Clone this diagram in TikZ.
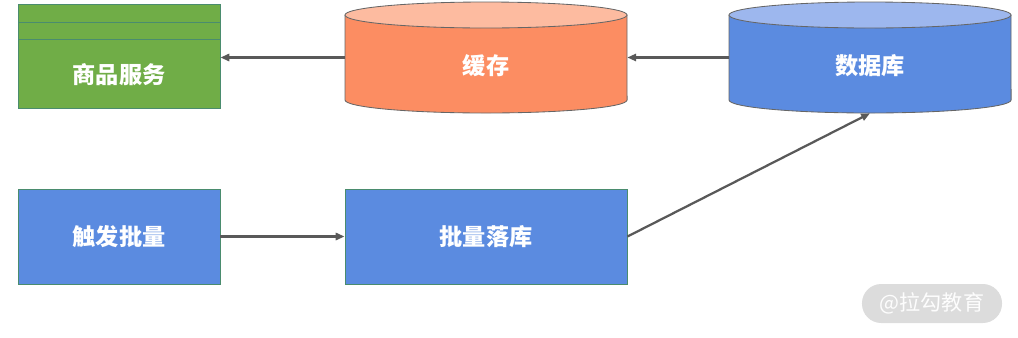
\documentclass[tikz,border=0pt]{standalone}
\usepackage{fontspec}
\newfontfamily\cjk{Noto Sans CJK SC}
\usetikzlibrary{arrows.meta,positioning}
\definecolor{lggreen}{HTML}{70AD47}
\definecolor{lgblue}{HTML}{5B8BE0}
\definecolor{lgbluetop}{HTML}{9DB7EE}
\definecolor{lgorange}{HTML}{FC8D62}
\definecolor{lgorangetop}{HTML}{FDBBA0}
\definecolor{lgedge}{HTML}{4A8C6E}
\definecolor{lgcylline}{HTML}{666666}
\definecolor{lgarrow}{HTML}{595959}
\definecolor{lgmark}{HTML}{DCDCDC}
\tikzset{
  box/.style={rectangle,draw=lgedge,line width=.6pt,inner sep=0pt,font=\cjk\bfseries\fontsize{16.5}{20}\selectfont,text=white},
  cylbody/.style={draw=lgcylline,line width=.6pt},
  cyltext/.style={rectangle,inner sep=0pt,minimum height=2.775cm,text height=26pt,text depth=2pt,font=\cjk\bfseries\fontsize{16.5}{20}\selectfont,text=white},
  flow/.style={-{Triangle[length=2.2mm,width=1.8mm]},draw=lgarrow,line width=1.6pt},
  watermark/.style={rectangle,rounded corners=.48cm,fill=lgmark,minimum width=3.5cm,minimum height=.975cm,font=\cjk\fontsize{15}{18}\selectfont,text=white!95!lgmark},
}
\begin{document}
\begin{tikzpicture}[x=0.025cm,y=-0.025cm]
  \useasboundingbox (0,0) rectangle (1018,337);

  % ---- top row: service, cache, database ----
  \node[box,fill=lggreen,minimum width=5.05cm,minimum height=2.6cm] (goods) at (119,56) {};
  \draw[lgedge,line width=.6pt] (18,22) -- (220,22) (18,39) -- (220,39);
  \node[font=\cjk\bfseries\fontsize{16.5}{20}\selectfont,text=white] (goodstext) at (119,75) {商品服务};

  \foreach \cx/\body/\lid in {486/lgorange/lgorangetop, 870/lgblue/lgbluetop}{
    \draw[cylbody,fill=\body] (\cx-141,15) -- (\cx-141,100)
      arc[start angle=180,end angle=360,x radius=3.525cm,y radius=.325cm] -- (\cx+141,15);
    \draw[cylbody,fill=\lid] (\cx,15) ellipse[x radius=3.525cm,y radius=.325cm];
  }
  \node[cyltext,minimum width=7.05cm] (cache) at (486,57.5) {缓存};
  \node[cyltext,minimum width=7.05cm] (db) at (870,57.5) {数据库};

  % ---- bottom row: batch ----
  \node[box,fill=lgblue,minimum width=5.05cm,minimum height=2.375cm] (trigger) at (119,236.5) {触发批量};
  \node[box,fill=lgblue,minimum width=7.05cm,minimum height=2.375cm] (batch) at (486,236.5) {批量落库};

  \draw[flow] (cache.west) -- (cache.west -| goods.east);
  \draw[flow] (db.west) -- (cache.east);
  \draw[flow] (trigger) -- (batch);
  \draw[flow] (batch.east) -- (db.south);

  \node[watermark] (logo) at (932,303.5) {@拉勾教育};
\end{tikzpicture}
\end{document}
